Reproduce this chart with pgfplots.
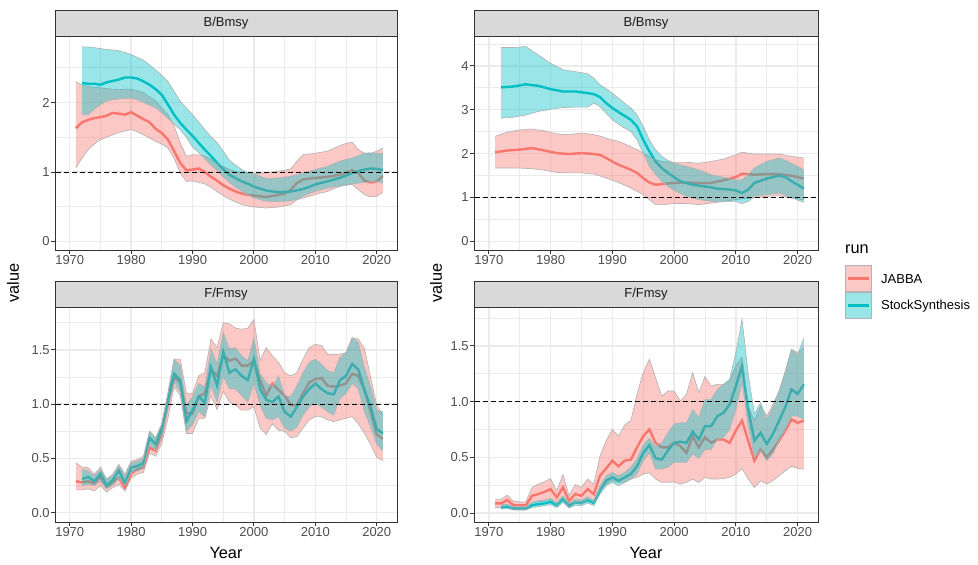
\documentclass[border=0pt]{standalone}
\usepackage{fontspec}
\setmainfont{Liberation Sans}
\usepackage{pgfplots}
\pgfplotsset{compat=1.18}
\usepackage{pgfplotstable}
\usepgfplotslibrary{fillbetween}

\definecolor{jabc}{HTML}{F8766D}
\definecolor{ssc}{HTML}{00BFC4}
\definecolor{g20}{HTML}{333333}
\definecolor{g30}{HTML}{4D4D4D}
\definecolor{g10}{HTML}{1A1A1A}
\definecolor{g85}{HTML}{D9D9D9}
\definecolor{g92}{HTML}{EBEBEB}
\definecolor{rib}{HTML}{B3B3B3}

% ---------- Panel A: B/Bmsy (left) ----------
\pgfplotstableread{
year mid lo hi
1971 1.63 1.06 2.30
1972 1.715 1.20 2.25
1973 1.75 1.32 2.23
1974 1.775 1.40 2.22
1975 1.79 1.465 2.21
1976 1.81 1.50 2.20
1977 1.85 1.535 2.19
1978 1.84 1.57 2.185
1979 1.825 1.59 2.19
1980 1.86 1.61 2.19
1981 1.81 1.58 2.17
1982 1.76 1.535 2.14
1983 1.715 1.49 2.08
1984 1.62 1.44 2.02
1985 1.56 1.40 1.92
1986 1.465 1.345 1.825
1987 1.30 1.20 1.66
1988 1.13 0.985 1.42
1989 1.025 0.865 1.225
1990 1.035 0.87 1.25
1991 1.05 0.85 1.245
1992 1.00 0.83 1.23
1993 0.93 0.78 1.18
1994 0.875 0.72 1.12
1995 0.81 0.66 1.08
1996 0.76 0.61 1.035
1997 0.72 0.57 1.01
1998 0.69 0.53 0.985
1999 0.67 0.51 0.98
2000 0.66 0.495 0.975
2001 0.65 0.49 0.98
2002 0.64 0.48 0.985
2003 0.655 0.49 1.00
2004 0.67 0.495 1.01
2005 0.69 0.51 1.025
2006 0.745 0.53 1.045
2007 0.84 0.60 1.155
2008 0.89 0.625 1.25
2009 0.905 0.65 1.26
2010 0.915 0.675 1.27
2011 0.92 0.70 1.285
2012 0.93 0.72 1.30
2013 0.945 0.76 1.34
2014 0.96 0.795 1.38
2015 0.99 0.81 1.41
2016 1.025 0.82 1.43
2017 0.985 0.745 1.32
2018 0.875 0.675 1.27
2019 0.85 0.64 1.265
2020 0.865 0.65 1.30
2021 0.94 0.71 1.345
}\Aj
\pgfplotstableread{
year mid lo hi
1972 2.28 1.825 2.80
1973 2.27 1.825 2.80
1974 2.27 1.90 2.79
1975 2.255 1.97 2.775
1976 2.29 2.02 2.765
1977 2.31 2.04 2.755
1978 2.33 2.05 2.745
1979 2.36 2.06 2.72
1980 2.36 2.06 2.69
1981 2.345 2.04 2.65
1982 2.305 2.00 2.61
1983 2.255 1.96 2.54
1984 2.19 1.92 2.47
1985 2.11 1.85 2.39
1986 1.97 1.77 2.30
1987 1.825 1.69 2.16
1988 1.705 1.61 2.02
1989 1.61 1.50 1.92
1990 1.52 1.36 1.825
1991 1.42 1.28 1.72
1992 1.32 1.19 1.61
1993 1.23 1.10 1.51
1994 1.13 1.02 1.42
1995 1.04 0.93 1.30
1996 0.96 0.85 1.17
1997 0.91 0.78 1.10
1998 0.865 0.72 1.035
1999 0.83 0.67 0.99
2000 0.79 0.63 0.975
2001 0.76 0.60 0.94
2002 0.735 0.58 0.905
2003 0.72 0.575 0.91
2004 0.71 0.575 0.915
2005 0.71 0.58 0.925
2006 0.72 0.585 0.94
2007 0.735 0.61 0.96
2008 0.755 0.65 0.985
2009 0.785 0.69 1.01
2010 0.82 0.72 1.035
2011 0.845 0.745 1.06
2012 0.865 0.77 1.08
2013 0.89 0.785 1.12
2014 0.915 0.795 1.155
2015 0.95 0.81 1.18
2016 0.985 0.83 1.20
2017 1.01 0.84 1.235
2018 1.035 0.85 1.27
2019 1.05 0.86 1.275
2020 1.045 0.865 1.27
2021 1.025 0.84 1.265
}\As

% ---------- Panel B: B/Bmsy (right) ----------
\pgfplotstableread{
year mid lo hi
1971 2.03 1.67 2.39
1973 2.07 1.67 2.49
1975 2.09 1.67 2.54
1977 2.125 1.655 2.56
1979 2.07 1.62 2.52
1981 2.01 1.57 2.45
1983 1.99 1.56 2.43
1985 2.01 1.56 2.47
1987 1.99 1.53 2.43
1988 1.97 1.49 2.40
1989 1.90 1.44 2.35
1990 1.82 1.39 2.31
1991 1.745 1.34 2.28
1992 1.69 1.28 2.22
1993 1.63 1.215 2.16
1994 1.56 1.14 2.09
1995 1.44 1.065 2.01
1996 1.34 0.95 1.935
1997 1.29 0.835 1.86
1998 1.305 0.835 1.82
2000 1.33 0.86 1.80
2002 1.34 0.86 1.80
2004 1.33 0.835 1.78
2006 1.33 0.87 1.82
2008 1.39 0.91 1.875
2010 1.465 0.95 1.97
2011 1.54 0.965 2.03
2012 1.53 0.98 2.01
2013 1.52 0.99 1.99
2015 1.53 1.025 1.99
2017 1.53 1.04 1.99
2019 1.495 0.99 1.935
2021 1.43 0.95 1.90
}\Bj
\pgfplotstableread{
year mid lo hi
1972 3.51 2.81 4.42
1974 3.53 2.83 4.42
1976 3.58 2.88 4.44
1978 3.545 2.96 4.25
1980 3.47 3.01 4.06
1982 3.415 3.05 3.91
1984 3.415 3.06 3.87
1986 3.38 3.06 3.82
1987 3.355 3.15 3.72
1988 3.29 3.07 3.57
1989 3.15 2.92 3.48
1990 3.04 2.77 3.38
1991 2.945 2.67 3.26
1992 2.86 2.58 3.15
1993 2.77 2.505 3.04
1994 2.62 2.315 2.88
1995 2.315 2.01 2.62
1996 2.05 1.71 2.315
1997 1.82 1.52 2.09
1998 1.67 1.37 1.935
1999 1.56 1.25 1.845
2000 1.46 1.16 1.78
2001 1.37 1.09 1.745
2002 1.33 1.025 1.71
2003 1.29 0.99 1.67
2004 1.27 0.95 1.63
2005 1.25 0.93 1.575
2006 1.23 0.91 1.52
2007 1.20 0.91 1.49
2008 1.19 0.91 1.46
2009 1.18 0.91 1.43
2010 1.16 0.91 1.40
2011 1.10 0.86 1.40
2012 1.18 0.91 1.52
2013 1.33 1.025 1.67
2014 1.38 1.045 1.75
2015 1.43 1.065 1.82
2016 1.465 1.08 1.86
2017 1.50 1.10 1.90
2018 1.465 1.05 1.85
2019 1.37 0.99 1.78
2020 1.29 0.94 1.71
2021 1.20 0.89 1.63
}\Bs

% ---------- Panel C: F/Fmsy (left) ----------
\pgfplotstableread{
year mid lo hi
1971 0.29 0.21 0.46
1972 0.28 0.21 0.42
1973 0.29 0.22 0.415
1974 0.27 0.20 0.355
1975 0.33 0.25 0.42
1976 0.24 0.19 0.31
1977 0.28 0.23 0.355
1978 0.32 0.26 0.445
1979 0.23 0.20 0.355
1980 0.36 0.32 0.475
1981 0.40 0.355 0.49
1982 0.415 0.37 0.52
1983 0.60 0.55 0.75
1984 0.57 0.52 0.69
1985 0.72 0.64 0.82
1986 1.00 0.87 1.11
1987 1.25 1.16 1.415
1988 1.20 1.08 1.415
1989 0.915 0.73 1.10
1990 0.915 0.73 1.10
1991 1.07 0.87 1.26
1992 1.10 0.87 1.29
1993 1.32 1.08 1.60
1994 1.26 0.95 1.52
1995 1.45 1.12 1.75
1996 1.40 1.02 1.74
1997 1.42 0.99 1.70
1998 1.355 0.945 1.69
1999 1.355 0.945 1.70
2000 1.40 0.975 1.78
2001 1.22 0.78 1.40
2002 1.08 0.72 1.52
2003 1.19 0.82 1.445
2004 1.13 0.76 1.385
2005 1.08 0.75 1.29
2006 0.99 0.69 1.26
2007 0.99 0.70 1.29
2008 1.10 0.78 1.415
2009 1.20 0.855 1.52
2010 1.23 0.885 1.55
2011 1.24 0.885 1.54
2012 1.17 0.855 1.46
2013 1.16 0.84 1.46
2014 1.17 0.855 1.46
2015 1.19 0.87 1.475
2016 1.28 0.885 1.61
2017 1.26 0.82 1.60
2018 1.13 0.73 1.51
2019 0.93 0.63 1.25
2020 0.72 0.51 0.99
2021 0.68 0.48 0.90
}\Cj
\pgfplotstableread{
year mid lo hi
1972 0.31 0.25 0.40
1973 0.33 0.26 0.385
1974 0.29 0.25 0.34
1975 0.36 0.29 0.40
1976 0.25 0.22 0.31
1977 0.30 0.25 0.34
1978 0.39 0.32 0.43
1979 0.27 0.25 0.34
1980 0.415 0.37 0.46
1981 0.43 0.385 0.475
1982 0.455 0.41 0.50
1983 0.69 0.63 0.75
1984 0.63 0.57 0.69
1985 0.78 0.70 0.82
1986 1.05 0.96 1.10
1987 1.28 1.20 1.415
1988 1.22 1.11 1.355
1989 0.84 0.75 0.99
1990 0.945 0.81 1.07
1991 1.07 0.93 1.19
1992 1.015 0.885 1.16
1993 1.34 1.17 1.51
1994 1.17 1.02 1.37
1995 1.48 1.26 1.66
1996 1.29 1.14 1.51
1997 1.32 1.14 1.52
1998 1.26 1.08 1.445
1999 1.22 1.02 1.40
2000 1.415 1.19 1.61
2001 1.14 0.99 1.28
2002 1.04 0.87 1.20
2003 1.02 0.855 1.16
2004 1.07 0.885 1.26
2005 0.93 0.78 1.08
2006 0.885 0.75 1.07
2007 0.975 0.79 1.17
2008 1.07 0.90 1.29
2009 1.14 0.975 1.385
2010 1.19 1.005 1.415
2011 1.14 0.975 1.37
2012 1.10 0.93 1.31
2013 1.09 0.90 1.29
2014 1.22 1.05 1.43
2015 1.26 1.10 1.475
2016 1.37 1.19 1.61
2017 1.32 1.14 1.57
2018 1.13 0.93 1.34
2019 0.975 0.79 1.16
2020 0.77 0.63 0.945
2021 0.73 0.57 0.93
}\Cs

% ---------- Panel D: F/Fmsy (right) ----------
\pgfplotstableread{
year mid lo hi
1971 0.087 0.05 0.125
1972 0.087 0.05 0.125
1973 0.116 0.07 0.16
1974 0.07 0.03 0.105
1975 0.07 0.03 0.10
1976 0.07 0.03 0.10
1977 0.155 0.095 0.23
1978 0.17 0.10 0.26
1979 0.19 0.11 0.28
1980 0.215 0.125 0.31
1981 0.14 0.07 0.20
1982 0.23 0.14 0.345
1983 0.11 0.05 0.155
1984 0.17 0.095 0.255
1985 0.155 0.08 0.23
1986 0.215 0.125 0.305
1987 0.17 0.095 0.26
1988 0.335 0.20 0.51
1989 0.40 0.26 0.65
1990 0.47 0.29 0.75
1991 0.42 0.275 0.69
1992 0.47 0.275 0.79
1993 0.48 0.305 0.83
1994 0.59 0.32 1.065
1995 0.69 0.35 1.26
1996 0.75 0.36 1.38
1997 0.63 0.305 1.215
1998 0.59 0.275 1.05
1999 0.59 0.275 1.095
2000 0.63 0.28 1.095
2001 0.60 0.26 1.005
2002 0.54 0.275 1.065
2003 0.69 0.305 1.26
2004 0.59 0.275 1.08
2005 0.68 0.32 1.225
2006 0.63 0.305 1.14
2007 0.66 0.305 1.155
2008 0.66 0.31 1.155
2009 0.63 0.32 1.185
2010 0.74 0.35 1.32
2011 0.83 0.40 1.40
2012 0.65 0.305 0.96
2013 0.47 0.23 0.83
2014 0.57 0.29 0.96
2015 0.50 0.26 0.87
2016 0.57 0.29 0.975
2017 0.65 0.335 1.095
2018 0.74 0.38 1.275
2019 0.84 0.42 1.47
2020 0.81 0.40 1.44
2021 0.83 0.395 1.485
}\Dj
\pgfplotstableread{
year mid lo hi
1972 0.05 0.035 0.075
1973 0.057 0.04 0.08
1974 0.04 0.027 0.057
1975 0.04 0.027 0.057
1976 0.04 0.027 0.057
1977 0.07 0.05 0.095
1978 0.08 0.057 0.11
1979 0.087 0.066 0.116
1980 0.10 0.075 0.13
1981 0.07 0.05 0.095
1982 0.125 0.095 0.155
1983 0.066 0.045 0.09
1984 0.095 0.07 0.125
1985 0.09 0.066 0.116
1986 0.116 0.09 0.146
1987 0.09 0.066 0.116
1988 0.20 0.17 0.245
1989 0.29 0.245 0.335
1990 0.32 0.275 0.365
1991 0.29 0.245 0.335
1992 0.32 0.275 0.365
1993 0.35 0.305 0.41
1994 0.42 0.35 0.49
1995 0.54 0.47 0.61
1996 0.61 0.54 0.67
1997 0.49 0.395 0.60
1998 0.48 0.395 0.63
1999 0.56 0.41 0.72
2000 0.63 0.455 0.80
2001 0.64 0.455 0.81
2002 0.63 0.455 0.81
2003 0.73 0.53 0.93
2004 0.66 0.49 0.86
2005 0.78 0.57 1.02
2006 0.78 0.57 1.02
2007 0.87 0.66 1.11
2008 0.90 0.68 1.155
2009 0.975 0.75 1.20
2010 1.14 0.93 1.44
2011 1.32 1.17 1.74
2012 0.93 0.78 1.245
2013 0.65 0.50 0.89
2014 0.72 0.56 0.99
2015 0.62 0.47 0.84
2016 0.71 0.53 0.95
2017 0.83 0.65 1.095
2018 0.95 0.75 1.26
2019 1.11 0.87 1.47
2020 1.07 0.87 1.42
2021 1.155 0.84 1.57
}\Ds

\tikzset{fill between/on layer=main}
\pgfplotsset{
  panel/.style={
    scale only axis, set layers,
    xmin=1967.6, xmax=2023.3,
    axis line style={draw=g20, line width=0.9pt},
    grid=both,
    major grid style={draw=g92, line width=1.5pt},
    minor grid style={draw=g92, line width=0.75pt},
    xtick={1970,1980,...,2020},
    minor xtick={1975,1985,1995,2005,2015},
    tick align=outside, tick pos=left,
    major tick length=3.7pt, minor tick length=0pt,
    major tick style={draw=g20, line width=0.9pt},
    ticklabel style={font=\fontsize{13}{15}\selectfont, text=g30, inner sep=1.5pt},
    /pgf/number format/assume math mode=true,
    xticklabel style={/pgf/number format/1000 sep={}},
  },
  Fpanel/.style={
    ymin=-0.09, ymax=1.89,
    ytick={0,0.5,1,1.5}, minor ytick={0.25,0.75,1.25,1.75},
    yticklabel style={/pgf/number format/fixed, /pgf/number format/fixed zerofill, /pgf/number format/precision=1},
  },
  mline/.style={line width=2.4pt},
  rline/.style={draw=rib, line width=0.65pt},
}

\newcommand{\panelplots}[3]{%
  \addplot[jabc, mline] table[x=year,y=mid]{#1};
  \addplot[ssc, mline] table[x=year,y=mid]{#2};
  \addplot[draw=none, name path=#3ju] table[x=year,y=hi]{#1};
  \addplot[draw=none, name path=#3jl] table[x=year,y=lo]{#1};
  \addplot[fill=jabc, fill opacity=0.4, draw=none] fill between[of=#3ju and #3jl];
  \addplot[rline] table[x=year,y=hi]{#1};
  \addplot[rline] table[x=year,y=lo]{#1};
  \addplot[draw=none, name path=#3su] table[x=year,y=hi]{#2};
  \addplot[draw=none, name path=#3sl] table[x=year,y=lo]{#2};
  \addplot[fill=ssc, fill opacity=0.4, draw=none] fill between[of=#3su and #3sl];
  \addplot[rline] table[x=year,y=hi]{#2};
  \addplot[rline] table[x=year,y=lo]{#2};
  \addplot[black, line width=0.9pt, dash pattern=on 4.5pt off 3.5pt] coordinates {(1960,1) (2030,1)};
}

\newcommand{\strip}[2]{%
  \draw[fill=g85, draw=g20, line width=0.9pt] (#1.north west) rectangle ([yshift=26.5pt]#1.north east);
  \node[font=\fontsize{13}{15}\selectfont, text=g10] at ([yshift=13.25pt]#1.north) {#2};
}

\begin{document}
\begin{tikzpicture}
\path (0,0) rectangle (978pt,565pt);

\begin{axis}[panel, name=p1, at={(55pt,314.5pt)}, anchor=south west,
  width=342pt, height=214pt,
  ymin=-0.13, ymax=2.95, ytick={0,1,2}, minor ytick={0.5,1.5,2.5}]
  \panelplots{\Aj}{\As}{a}
\end{axis}

\begin{axis}[panel, name=p2, at={(474pt,314.5pt)}, anchor=south west,
  width=344pt, height=214pt,
  ymin=-0.21, ymax=4.67, ytick={0,1,2,3,4}, minor ytick={0.5,1.5,2.5,3.5,4.5}]
  \panelplots{\Bj}{\Bs}{b}
\end{axis}

\begin{axis}[panel, Fpanel, name=p3, at={(55pt,42.5pt)}, anchor=south west,
  width=342pt, height=215pt]
  \panelplots{\Cj}{\Cs}{c}
\end{axis}

\begin{axis}[panel, Fpanel, name=p4, at={(474pt,42.5pt)}, anchor=south west,
  width=344pt, height=215pt, ymin=-0.085, ymax=1.845]
  \panelplots{\Dj}{\Ds}{d}
\end{axis}

\strip{p1}{B/Bmsy}
\strip{p2}{B/Bmsy}
\strip{p3}{F/Fmsy}
\strip{p4}{F/Fmsy}

% axis titles
\node[rotate=90, font=\fontsize{16.3}{18}\selectfont, text=black] at (13pt,282pt) {value};
\node[rotate=90, font=\fontsize{16.3}{18}\selectfont, text=black] at (436pt,282pt) {value};
\node[font=\fontsize{16.3}{18}\selectfont, text=black] at (226pt,12pt) {Year};
\node[font=\fontsize{16.3}{18}\selectfont, text=black] at (646pt,12pt) {Year};

% legend
\node[anchor=west, font=\fontsize{16.3}{18}\selectfont, inner sep=0pt] at (845pt,316pt) {run};
\fill[jabc, fill opacity=0.4] (845.7pt,274pt) rectangle (871pt,299.3pt);
\draw[rib, line width=0.65pt] (845.7pt,274pt) rectangle (871pt,299.3pt);
\draw[jabc, line width=2.4pt] (848pt,286.6pt) -- (868.7pt,286.6pt);
\fill[ssc, fill opacity=0.4] (845.7pt,247pt) rectangle (871pt,272.3pt);
\draw[rib, line width=0.65pt] (845.7pt,247pt) rectangle (871pt,272.3pt);
\draw[ssc, line width=2.4pt] (848pt,259.6pt) -- (868.7pt,259.6pt);
\node[anchor=west, font=\fontsize{13}{15}\selectfont, inner sep=0pt] at (881pt,286pt) {JABBA};
\node[anchor=west, font=\fontsize{13}{15}\selectfont, inner sep=0pt] at (881pt,259pt) {StockSynthesis};
\end{tikzpicture}
\end{document}
